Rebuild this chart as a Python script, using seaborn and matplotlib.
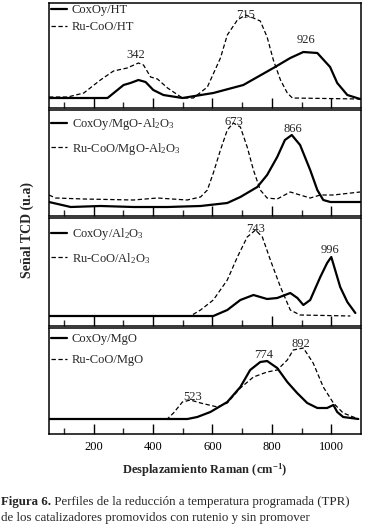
import matplotlib
matplotlib.use('Agg')
import matplotlib.pyplot as plt
import seaborn as sns
import pandas as pd
from matplotlib.ticker import FixedLocator, NullLocator

sns.set_style('ticks')
plt.rcParams['font.family'] = ['Liberation Serif', 'DejaVu Serif']
plt.rcParams['mathtext.fontset'] = 'custom'
plt.rcParams['mathtext.rm'] = 'Liberation Serif'
plt.rcParams['mathtext.it'] = 'Liberation Serif:italic'
plt.rcParams['mathtext.bf'] = 'Liberation Serif:bold'

# ---------------- data (Raman shift, signal in a.u.) ----------------
# Panel 1: HT
ht_solid_x = [50, 113, 190, 247, 301, 324, 351, 375, 401, 435, 499, 603, 704, 805, 862, 906, 953, 996, 1020, 1054, 1097]
ht_solid_y = [10, 10, 10, 10, 23, 25, 28, 26, 18, 13, 10, 15, 23, 40, 50, 56, 55, 41, 25, 13, 9]
ht_dash_x = [50, 113, 167, 223, 267, 313, 351, 368, 392, 415, 449, 499, 536, 583, 627, 650, 684, 711, 738, 761, 784, 805, 829, 852, 869, 1097]
ht_dash_y = [11, 11, 15, 28, 37, 40, 45, 43, 31, 29, 20, 10, 10, 21, 50, 73, 88, 93, 90, 87, 71, 48, 28, 15, 10, 9]

# Panel 2: MgO-Al2O3
ma_solid_x = [50, 123, 223, 334, 449, 560, 650, 694, 751, 784, 818, 844, 867, 895, 929, 953, 973, 997, 1097]
ma_solid_y = [14, 9, 10, 9, 9, 10, 13, 19, 29, 41, 59, 76, 81, 71, 46, 26, 16, 14, 14]
ma_dash_x = [50, 72, 167, 334, 415, 515, 560, 583, 603, 627, 650, 670, 694, 717, 738, 761, 784, 818, 862, 895, 929, 963, 1007, 1097]
ma_dash_y = [21, 18, 17, 16, 18, 16, 19, 26, 43, 66, 86, 93, 89, 69, 46, 26, 18, 17, 24, 21, 18, 21, 21, 24]

# Panel 3: Al2O3
al_solid_x = [50, 224, 392, 603, 650, 694, 738, 784, 818, 862, 886, 906, 929, 963, 986, 1000, 1013, 1030, 1054, 1081]
al_solid_y = [10, 10, 10, 10, 16, 26, 31, 27, 28, 33, 28, 21, 26, 49, 63, 69, 56, 39, 24, 13]
al_dash_x = [50, 526, 560, 603, 650, 684, 717, 745, 768, 795, 829, 862, 895, 1064]
al_dash_y = [10, 10, 16, 26, 46, 69, 89, 96, 89, 66, 39, 16, 11, 10]

# Panel 4: MgO
mg_solid_x = [50, 516, 549, 593, 650, 694, 727, 761, 784, 818, 852, 885, 919, 953, 986, 1007, 1020, 1040, 1091]
mg_solid_y = [15, 15, 17, 22, 32, 47, 64, 72, 73, 66, 52, 41, 31, 26, 26, 29, 22, 17, 15]
mg_dash_x = [50, 448, 469, 499, 526, 560, 617, 650, 694, 738, 784, 818, 852, 872, 906, 939, 973, 1007, 1040, 1091]
mg_dash_y = [15, 15, 21, 32, 34, 31, 27, 31, 46, 57, 62, 64, 74, 84, 86, 71, 47, 31, 21, 15]

solid_labels = ["CoxOy/HT", "CoxOy/MgO-Al$_2$O$_3$", "CoxOy/Al$_2$O$_3$", "CoxOy/MgO"]
dash_labels = ["Ru-CoO/HT", "Ru-CoO/MgO-Al$_2$O$_3$", "Ru-CoO/Al$_2$O$_3$", "Ru-CoO/MgO"]

peak_labels = [["342", "715", "926"], ["673", "866"], ["743", "996"], ["523", "774", "892"]]
peak_x = [[341, 711, 916], [671, 872], [745, 997], [533, 771, 896]]
peak_y = [[53, 93, 68], [94, 87], [97, 76], [37, 79, 90]]

major_ticks = [200, 400, 600, 800, 1000]
minor_ticks = [100, 300, 500, 700, 900]
tick_labels = ["200", "400", "600", "800", "1000"]

# ---------------- figure ----------------
W, H = 388, 527
fig = plt.figure(figsize=(W / 100, H / 100), dpi=100)
fig.patch.set_facecolor('white')

panels_px = [(3, 108), (110, 216), (218, 326), (328, 434)]
series = [
    (ht_solid_x, ht_solid_y, ht_dash_x, ht_dash_y),
    (ma_solid_x, ma_solid_y, ma_dash_x, ma_dash_y),
    (al_solid_x, al_solid_y, al_dash_x, al_dash_y),
    (mg_solid_x, mg_solid_y, mg_dash_x, mg_dash_y),
]
leg_spacing = [0.4, 0.7, 0.7, 0.75]
leg_drop_px = [1, 6, 8, 5]

for i, ((top, bot), (sx, sy, dx, dy)) in enumerate(zip(panels_px, series)):
    ax = fig.add_axes([49 / W, 1 - bot / H, (361 - 49) / W, (bot - top) / H])
    ds = pd.DataFrame({'x': sx, 'y': sy})
    dd = pd.DataFrame({'x': dx, 'y': dy})
    sns.lineplot(data=ds, x='x', y='y', ax=ax, color='black', linewidth=1.6,
                 label=solid_labels[i])
    sns.lineplot(data=dd, x='x', y='y', ax=ax, color='black', linewidth=0.9,
                 linestyle=(0, (3.5, 2)), label=dash_labels[i])
    ax.set_xlim(50, 1100)
    ax.set_ylim(0, bot - top)
    ax.set_xlabel('')
    ax.set_ylabel('')
    ax.yaxis.set_major_locator(NullLocator())
    ax.xaxis.set_major_locator(FixedLocator(major_ticks))
    ax.xaxis.set_minor_locator(FixedLocator(minor_ticks))
    ax.tick_params(axis='x', which='major', direction='in', length=7, width=1.0,
                   top=False, labelsize=9, pad=5, colors='black')
    ax.tick_params(axis='x', which='minor', direction='in', length=4.5, width=1.0, top=False)
    if i < 3:
        ax.set_xticklabels([])
    else:
        ax.set_xticklabels(tick_labels)
    for s in ax.spines.values():
        s.set_linewidth(1.1)
        s.set_color('black')
    for lab, px_, py_ in zip(peak_labels[i], peak_x[i], peak_y[i]):
        ax.text(px_, py_, lab, ha='center', va='center', fontsize=9)
    ax.legend(loc='upper left',
              bbox_to_anchor=(0.005, 1.0 - leg_drop_px[i] / (bot - top)), frameon=False,
              fontsize=9, handlelength=1.3, handletextpad=0.4,
              borderaxespad=0.0, borderpad=0.0, labelspacing=leg_spacing[i])

fig.text(27 / W, 1 - 230 / H, "Señal TCD (u.a)", rotation=90, ha='center', va='center',
         fontsize=10, fontweight='bold')
fig.text(205 / W, 1 - 470 / H, r"Desplazamiento Raman (cm$^{\mathbf{-1}}$)", ha='center',
         va='center', fontsize=9, fontweight='bold')

t1 = fig.text(1 / W, 1 - 502 / H, "Figura 6.", ha='left', va='center', fontsize=9.3,
              fontweight='bold')
fig.canvas.draw()
bb = t1.get_window_extent(renderer=fig.canvas.get_renderer())
fig.text(bb.x1 / W, 1 - 502 / H, " Perfiles de la reducción a temperatura programada (TPR)",
         ha='left', va='center', fontsize=9.3)
fig.text(1 / W, 1 - 518 / H, "de los catalizadores promovidos con rutenio y sin promover",
         ha='left', va='center', fontsize=9.3)

fig.savefig('out.png', dpi=100, facecolor='white')
